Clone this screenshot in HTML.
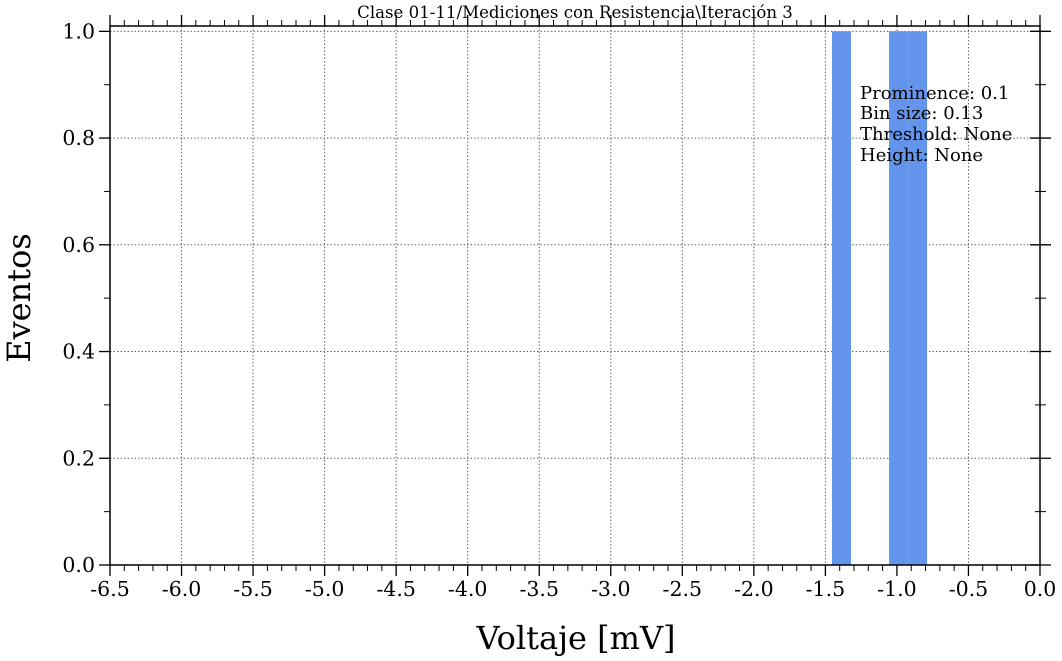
<!DOCTYPE html>
<html><head><meta charset="utf-8"><style>
html,body{margin:0;padding:0;background:#fff;}
svg{display:block;font-family:"DejaVu Serif","Liberation Serif",serif;}
</style></head><body>
<svg id="chart" width="1062" height="661" viewBox="0 0 1062 661" xmlns="http://www.w3.org/2000/svg">
<text x="575" y="18" font-size="16.6" text-anchor="middle">Clase 01-11/Mediciones con Resistencia\Iteración 3</text>
<text transform="translate(30,298) rotate(-90)" font-size="32" text-anchor="middle">Eventos</text>
<text x="576" y="649" font-size="32" text-anchor="middle">Voltaje [mV]</text>
<g id="grid"></g><g id="bars"></g><g id="axes"></g>
<g font-size="18">
<text x="860" y="99">Prominence: 0.1</text>
<text x="860" y="119">Bin size: 0.13</text>
<text x="860" y="140">Threshold: None</text>
<text x="860" y="161">Height: None</text>
</g>
</svg>
<script>
const binLefts = [-1.454, -1.321, -1.188, -1.055, -0.922];
const binCounts = [1, 0, 0, 1, 1];
const binWidth = 0.133;
const xTicks = ["-6.5","-6.0","-5.5","-5.0","-4.5","-4.0","-3.5","-3.0","-2.5","-2.0","-1.5","-1.0","-0.5","0.0"];
const yTicks = ["0.0","0.2","0.4","0.6","0.8","1.0"];

const X0=110,X1=1040,Y0=565,Y1=26,xmin=-6.5,xmax=0,ymin=0,ymax=1.01;
const sx=v=>X0+(v-xmin)/(xmax-xmin)*(X1-X0);
const sy=v=>Y0-(v-ymin)/(ymax-ymin)*(Y0-Y1);
const NS="http://www.w3.org/2000/svg";
function mk(tag,attrs,parent){const e=document.createElementNS(NS,tag);for(const k in attrs)e.setAttribute(k,attrs[k]);parent.appendChild(e);return e;}
const grid=document.getElementById('grid'),bars=document.getElementById('bars'),axes=document.getElementById('axes');

xTicks.forEach(t=>{const x=sx(parseFloat(t));
 const g=mk('line',{x1:x,x2:x,y1:Y1,y2:Y0,stroke:'#666','stroke-width':1,'stroke-dasharray':'1.5,2'},grid);
 
 
 const l=mk('text',{x:x,y:596,'font-size':20.5,'text-anchor':'middle'},axes);l.textContent=t;
 
 
 mk('line',{x1:x,x2:x,y1:Y0,y2:Y0+11,stroke:'#000','stroke-width':1.3},axes);
 mk('line',{x1:x,x2:x,y1:Y1,y2:Y1-11,stroke:'#000','stroke-width':1.3},axes);
});
for(let i=0;i<=65;i++){if(i%5===0)continue;const x=sx(xmin+i*0.1);
 mk('line',{x1:x,x2:x,y1:Y0,y2:Y0+6,stroke:'#000','stroke-width':1},axes);
 mk('line',{x1:x,x2:x,y1:Y1,y2:Y1-6,stroke:'#000','stroke-width':1},axes);}
yTicks.forEach(t=>{const y=sy(parseFloat(t));
 const g=mk('line',{x1:X0,x2:X1,y1:y,y2:y,stroke:'#666','stroke-width':1,'stroke-dasharray':'1.5,2'},grid);
 
 
 const l=mk('text',{x:95,y:y+7,'font-size':20.5,'text-anchor':'end'},axes);l.textContent=t;
 
 
 mk('line',{x1:X0-11,x2:X0,y1:y,y2:y,stroke:'#000','stroke-width':1.3},axes);
 mk('line',{x1:X1-10,x2:X1+11,y1:y,y2:y,stroke:'#000','stroke-width':1.3},axes);
});
for(let i=1;i<=10;i+=2){const y=sy(i*0.1);
 mk('line',{x1:X0-6,x2:X0,y1:y,y2:y,stroke:'#000','stroke-width':1},axes);
 mk('line',{x1:X1-5,x2:X1+6,y1:y,y2:y,stroke:'#000','stroke-width':1},axes);}
binLefts.forEach((b,i)=>{if(!binCounts[i])return;
 const r=mk('rect',{x:sx(b),y:sy(binCounts[i]),width:sx(b+binWidth)-sx(b),height:sy(0)-sy(binCounts[i]),fill:'#6495ED'},bars);
 
 
});
const f=mk('rect',{x:X0,y:Y1,width:X1-X0,height:Y0-Y1,fill:'none',stroke:'#000','stroke-width':1.5},axes);


</script>
</body></html>
